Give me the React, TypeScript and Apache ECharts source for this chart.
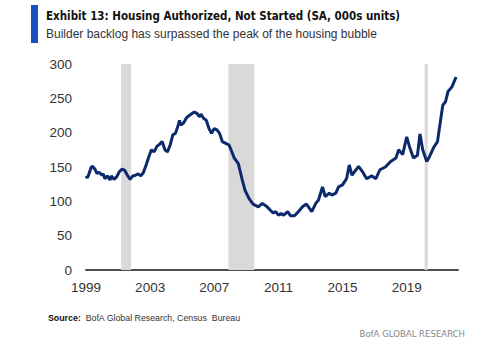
import React, { useEffect, useRef } from "react";
import * as echarts from "echarts";

const BASE_YEAR = 1999;
const xTickYears = [1999, 2003, 2007, 2011, 2015, 2019];
const yTicks = [0, 50, 100, 150, 200, 250, 300];

const recessionStarts = [2001.19, 2007.88, 2020.12];
const recessionEnds = [2001.81, 2009.5, 2020.31];

const years = [
  1999.0, 1999.08, 1999.17, 1999.33, 1999.42, 1999.58, 1999.67, 1999.83,
  2000.0, 2000.08, 2000.17, 2000.33, 2000.5, 2000.58, 2000.75, 2000.92,
  2001.08, 2001.25, 2001.42, 2001.58, 2001.75, 2001.92,
  2002.08, 2002.25, 2002.42, 2002.58, 2002.75, 2002.92,
  2003.08, 2003.25, 2003.42, 2003.58, 2003.75, 2003.92,
  2004.08, 2004.25, 2004.42, 2004.58, 2004.75, 2004.83, 2004.92,
  2005.08, 2005.25, 2005.33, 2005.5, 2005.75, 2005.92,
  2006.08, 2006.17, 2006.33, 2006.5, 2006.67, 2006.83,
  2007.0, 2007.17, 2007.33, 2007.5, 2007.75, 2007.92,
  2008.08, 2008.25, 2008.5, 2008.75, 2008.92,
  2009.17, 2009.42, 2009.75,
  2010.0, 2010.25, 2010.5, 2010.67, 2010.83,
  2011.0, 2011.17, 2011.33, 2011.58, 2011.75,
  2012.0, 2012.25, 2012.5, 2012.75,
  2013.08, 2013.33, 2013.5, 2013.75, 2013.92,
  2014.17, 2014.33, 2014.58, 2014.75,
  2015.0, 2015.25, 2015.42, 2015.58,
  2016.0, 2016.25, 2016.5, 2016.83,
  2017.08, 2017.33, 2017.67,
  2018.0, 2018.33, 2018.5, 2018.75,
  2019.0, 2019.17, 2019.42, 2019.67, 2019.83,
  2020.0, 2020.25, 2020.42, 2020.67, 2020.92,
  2021.25, 2021.42, 2021.58, 2021.83, 2022.08,
];

const housingAuthorizedNotStarted = [
  137, 134, 139, 150, 151, 146, 141, 142,
  138, 140, 133, 137, 131, 137, 132, 136,
  143, 147, 145, 138, 132, 137,
  138, 140, 137, 142, 153, 165,
  175, 172, 180, 183, 187, 175,
  172, 182, 197, 199, 211, 218, 211,
  214, 221, 223, 226, 230, 228,
  223, 227, 221, 218, 206, 199,
  206, 204, 199, 187, 184, 182,
  173, 163, 155, 131, 116,
  104, 96, 92,
  97, 93, 87, 83, 85,
  80, 82, 80, 85, 79,
  79, 85, 92, 96,
  85, 97, 102, 121, 107,
  112, 109, 112, 121,
  124, 133, 153, 138,
  151, 143, 133, 137,
  133, 146, 150,
  158, 163, 175, 168,
  194, 180, 163, 167, 198,
  175, 158, 165, 178, 187,
  240, 245, 260, 267, 281,
];

const TITLE = "Exhibit 13: Housing Authorized, Not Started (SA, 000s units)";
const SUBTITLE = "Builder backlog has surpassed the peak of the housing bubble";
const SOURCE_TEXT = "BofA Global Research, Census  Bureau";
const FOOTER = "BofA GLOBAL RESEARCH";

export default function App() {
  const ref = useRef<HTMLDivElement>(null);

  useEffect(() => {
    if (!ref.current) return;
    const chart = echarts.init(ref.current, undefined, { renderer: "svg" });
    const seriesData = years.map((y, i) => [y - BASE_YEAR, housingAuthorizedNotStarted[i]]);
    const areas = recessionStarts.map((s, i) => [
      { xAxis: s - BASE_YEAR },
      { xAxis: recessionEnds[i] - BASE_YEAR },
    ]);
    const font = "'Liberation Sans', Arial, sans-serif";
    const narrow = "'Liberation Sans Narrow', 'DejaVu Sans Condensed', 'Liberation Sans', sans-serif";

    chart.setOption({
      animation: false,
      backgroundColor: "#ffffff",
      grid: { left: 86, right: 42, top: 64, bottom: 81, containLabel: false },
      xAxis: {
        type: "value",
        min: 0,
        max: 23.2,
        interval: 4,
        axisLine: { show: true, lineStyle: { color: "#4d4d4d", width: 2 } },
        axisTick: { show: false },
        splitLine: { show: false },
        axisLabel: {
          showMaxLabel: false,
          color: "#333",
          fontFamily: font,
          fontSize: 13.5,
          margin: 10,
          formatter: (v: number) => {
            const y = Math.round(v) + BASE_YEAR;
            return Math.abs(v - Math.round(v)) < 1e-6 && xTickYears.includes(y) ? String(y) : "";
          },
        },
      },
      yAxis: {
        type: "value",
        min: yTicks[0],
        max: yTicks[yTicks.length - 1],
        interval: 50,
        axisLine: { show: false },
        axisTick: { show: false },
        splitLine: { show: false },
        axisLabel: { color: "#333", fontFamily: font, fontSize: 13.5, margin: 14 },
      },
      series: [
        {
          type: "line",
          data: seriesData,
          showSymbol: false,
          symbol: "none",
          z: 3,
          lineStyle: { color: "#0c2a6b", width: 3 },
          markArea: {
            silent: true,
            itemStyle: { color: "#d9d9d9", opacity: 1 },
            data: areas,
          },
        },
      ],
      graphic: [
        { type: "rect", shape: { x: 31, y: 5, width: 7, height: 38 }, style: { fill: "#1c4fc0" } },
        {
          type: "text",
          x: 46,
          y: 16,
          style: {
            text: TITLE,
            font: `bold 11.5px ${narrow}`,
            fill: "#111",
            verticalAlign: "middle",
          },
        },
        {
          type: "text",
          x: 46,
          y: 34,
          style: {
            text: SUBTITLE,
            font: `12px ${font}`,
            fill: "#333",
            verticalAlign: "middle",
          },
        },
        {
          type: "text",
          x: 48,
          y: 318,
          style: {
            text: "{b|Source:}  " + SOURCE_TEXT,
            font: `8.8px ${font}`,
            fill: "#333",
            verticalAlign: "middle",
            rich: { b: { fontWeight: "bold", fontSize: 8.8, fontFamily: font, fill: "#111" } },
          },
        },
        {
          type: "text",
          x: 465,
          y: 333,
          style: {
            text: FOOTER,
            font: `9.5px ${narrow}`,
            fill: "#888",
            align: "right",
            verticalAlign: "middle",
          },
        },
      ],
    });
    return () => chart.dispose();
  }, []);

  return <div ref={ref} style={{ width: 500, height: 351, position: "absolute", left: 0, top: 0 }} />;
}
